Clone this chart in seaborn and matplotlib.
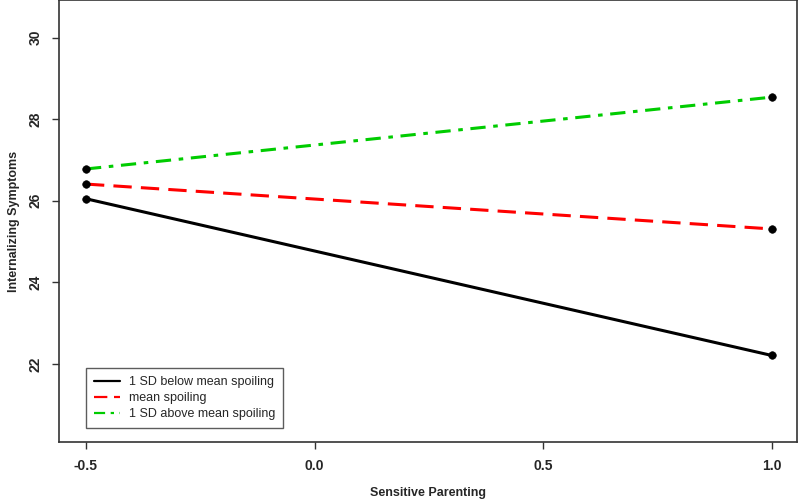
import pandas as pd
import matplotlib
matplotlib.use("Agg")
import matplotlib.pyplot as plt
import seaborn as sns

# values
parenting = [-0.5, 1.0]
low_spoiling = [26.05, 22.21]
mean_spoiling = [26.41, 25.31]
high_spoiling = [26.78, 28.54]
group_names = ["1 SD below mean spoiling", "mean spoiling", "1 SD above mean spoiling"]
x_ticks = [-0.5, 0.0, 0.5, 1.0]
y_ticks = [22, 24, 26, 28, 30]

df = pd.DataFrame({
    "parenting": parenting * 3,
    "symptoms": low_spoiling + mean_spoiling + high_spoiling,
    "group": [g for g in group_names for _ in parenting],
})

sns.set_style("white")
plt.rcParams["font.family"] = ["Liberation Sans", "DejaVu Sans"]

fig = plt.figure(figsize=(8, 5.01), dpi=100)
ax = fig.add_axes([59 / 800, 59 / 501, 738 / 800, 442 / 501])

palette = {group_names[0]: "black", group_names[1]: "#ff0000", group_names[2]: "#00cc00"}
dashes = {group_names[0]: "", group_names[1]: (6, 3), group_names[2]: (5, 2.5, 1.5, 2.5)}
sns.lineplot(data=df, x="parenting", y="symptoms", hue="group", style="group",
             palette=palette, dashes=dashes, linewidth=2.2, ax=ax, legend=False)
sns.scatterplot(data=df, x="parenting", y="symptoms", color="black", s=30,
                edgecolor="black", zorder=5, ax=ax, legend=False)

ax.set_xlim(-0.559, 1.055)
ax.set_ylim(20.09, 30.92)
ax.set_xticks(x_ticks)
ax.set_xticklabels([f"{t:.1f}" for t in x_ticks])
ax.set_yticks(y_ticks)
ax.set_yticklabels([str(t) for t in y_ticks], rotation=90, va="center")
ax.tick_params(axis="both", direction="out", length=5, width=1, color="#333333",
               labelsize=10, pad=7, left=True, bottom=True)
for lab in ax.get_xticklabels() + ax.get_yticklabels():
    lab.set_fontweight("bold")
for sp in ax.spines.values():
    sp.set_color("#333333")
    sp.set_linewidth(1.2)

ax.set_xlabel("Sensitive Parenting", fontsize=9, fontweight="bold", labelpad=10)
ax.set_ylabel("Internalizing Symptoms", fontsize=9, fontweight="bold", labelpad=6)

handles = []
for g in group_names:
    h = plt.Line2D([], [], color=palette[g], linewidth=1.6)
    if dashes[g]:
        h.set_dashes(dashes[g])
    handles.append(h)
leg = ax.legend(handles, group_names, loc="lower left", bbox_to_anchor=(0.036, 0.031),
                fontsize=9, frameon=True, fancybox=False, handlelength=2.1,
                handletextpad=0.7, borderpad=0.65, labelspacing=0.33, borderaxespad=0)
leg.get_frame().set_edgecolor("#333333")
leg.get_frame().set_linewidth(1.0)

fig.savefig("out.png", dpi=100)
